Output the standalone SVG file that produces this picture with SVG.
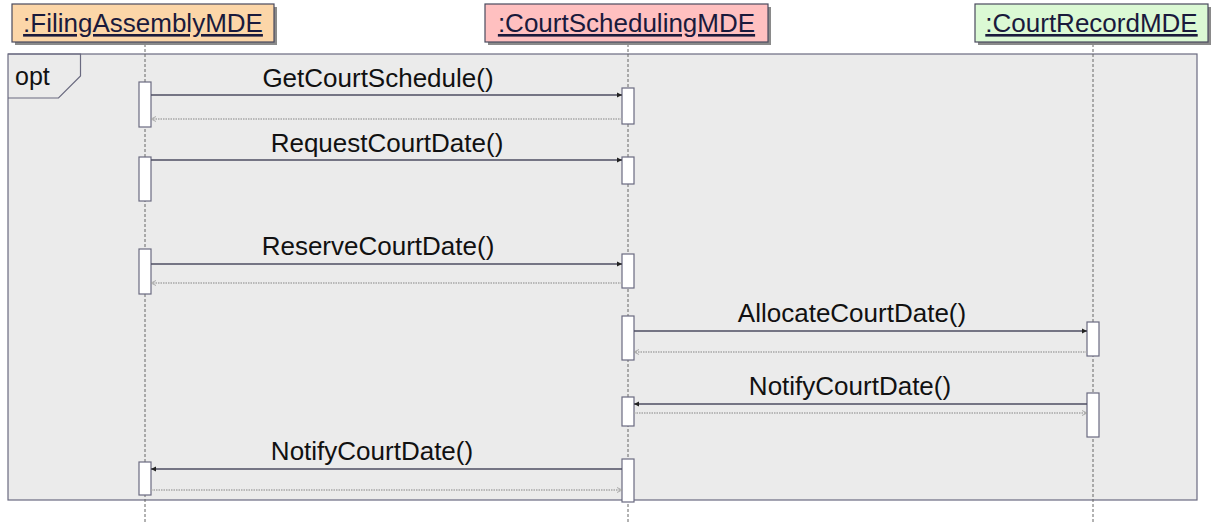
<svg xmlns="http://www.w3.org/2000/svg" width="1214" height="524" viewBox="0 0 1214 524">
<defs>
<style>
.hdr{stroke:#4a4a5e;stroke-width:1.2}
.shadow{fill:#8a8a8a}
.htxt{font-family:"Liberation Sans",Arial,sans-serif;font-size:26px;fill:#1a1a3c;text-decoration:underline;text-anchor:middle}
.life{stroke:#666;stroke-width:1;stroke-dasharray:3,2;fill:none}
.act{fill:#fff;stroke:#6a6a80;stroke-width:1.2}
.msg{stroke:#4e4e62;stroke-width:1.3;fill:none}
.ret{stroke:#a8a8a8;stroke-width:1.3;stroke-dasharray:1.5,1;fill:none}
.lbl{font-family:"Liberation Sans",Arial,sans-serif;font-size:26px;fill:#111;text-anchor:middle}
</style>
<marker id="solid" markerWidth="6" markerHeight="6" refX="5" refY="3" orient="auto" markerUnits="userSpaceOnUse">
<path d="M0,0.5 L5,3 L0,5.5 Z" fill="#222"/>
</marker>
<marker id="open" markerWidth="6" markerHeight="6" refX="5" refY="3" orient="auto" markerUnits="userSpaceOnUse">
<path d="M0,0.5 L5,3 L0,5.5" fill="none" stroke="#999" stroke-width="0.8"/>
</marker>
</defs>
<rect width="1214" height="524" fill="#fff"/>

<g id="frame">
<rect x="8" y="54" width="1189" height="446" fill="#ebebeb" stroke="#6a6a80" stroke-width="1.2"/>
<path d="M8,54 H80.5 V76 L58.5,98 H8" fill="none" stroke="#6a6a80" stroke-width="1.2"/>
<text x="15" y="85" font-family="Liberation Sans,Arial,sans-serif" font-size="25" fill="#111">opt</text>
</g>

<g id="lifelines">
<line class="life" x1="145" y1="44" x2="145" y2="524"/>
<line class="life" x1="628" y1="44" x2="628" y2="524"/>
<line class="life" x1="1093" y1="44" x2="1093" y2="524"/>
</g>

<g id="FilingAssemblyMDE">
<rect class="shadow" x="15" y="7" width="262" height="38"/>
<rect class="hdr" x="12" y="4" width="262" height="38" fill="#fcd6a8"/>
<text class="htxt" x="143" y="32">:FilingAssemblyMDE</text>
</g>
<g id="CourtSchedulingMDE">
<rect class="shadow" x="488" y="7" width="283" height="38"/>
<rect class="hdr" x="485" y="4" width="283" height="38" fill="#ffc0c0"/>
<text class="htxt" x="626.5" y="32">:CourtSchedulingMDE</text>
</g>
<g id="CourtRecordMDE">
<rect class="shadow" x="978" y="7" width="233" height="38"/>
<rect class="hdr" x="975" y="4" width="233" height="38" fill="#dbf9d4"/>
<text class="htxt" x="1091.5" y="32">:CourtRecordMDE</text>
</g>

<g id="activations">
<rect class="act" x="139" y="82" width="12" height="45"/>
<rect class="act" x="622" y="88" width="12" height="36"/>
<rect class="act" x="139" y="157" width="12" height="44"/>
<rect class="act" x="622" y="157" width="12" height="27"/>
<rect class="act" x="139" y="249" width="12" height="45"/>
<rect class="act" x="622" y="254" width="12" height="34"/>
<rect class="act" x="622" y="316" width="12" height="44"/>
<rect class="act" x="1087" y="322" width="12" height="34"/>
<rect class="act" x="622" y="397" width="12" height="29"/>
<rect class="act" x="1087" y="393" width="12" height="44"/>
<rect class="act" x="139" y="462" width="12" height="33"/>
<rect class="act" x="622" y="459" width="12" height="43"/>
</g>

<g id="connectors">
<line class="msg" x1="151" y1="95" x2="622" y2="95" marker-end="url(#solid)"/>
<line class="ret" x1="622" y1="119" x2="151" y2="119" marker-end="url(#open)"/>
<line class="msg" x1="151" y1="160" x2="622" y2="160" marker-end="url(#solid)"/>
<line class="msg" x1="151" y1="264" x2="622" y2="264" marker-end="url(#solid)"/>
<line class="ret" x1="622" y1="283" x2="151" y2="283" marker-end="url(#open)"/>
<line class="msg" x1="634" y1="331" x2="1087" y2="331" marker-end="url(#solid)"/>
<line class="ret" x1="1087" y1="352" x2="634" y2="352" marker-end="url(#open)"/>
<line class="msg" x1="1087" y1="404" x2="634" y2="404" marker-end="url(#solid)"/>
<line class="ret" x1="634" y1="413" x2="1087" y2="413" marker-end="url(#open)"/>
<line class="msg" x1="622" y1="469" x2="151" y2="469" marker-end="url(#solid)"/>
<line class="ret" x1="151" y1="490" x2="622" y2="490" marker-end="url(#open)"/>
</g>

<g id="labels">
<text class="lbl" x="378" y="87">GetCourtSchedule()</text>
<text class="lbl" x="387" y="152">RequestCourtDate()</text>
<text class="lbl" x="378" y="255">ReserveCourtDate()</text>
<text class="lbl" x="852" y="322">AllocateCourtDate()</text>
<text class="lbl" x="850" y="395">NotifyCourtDate()</text>
<text class="lbl" x="372" y="460">NotifyCourtDate()</text>
</g>
</svg>
